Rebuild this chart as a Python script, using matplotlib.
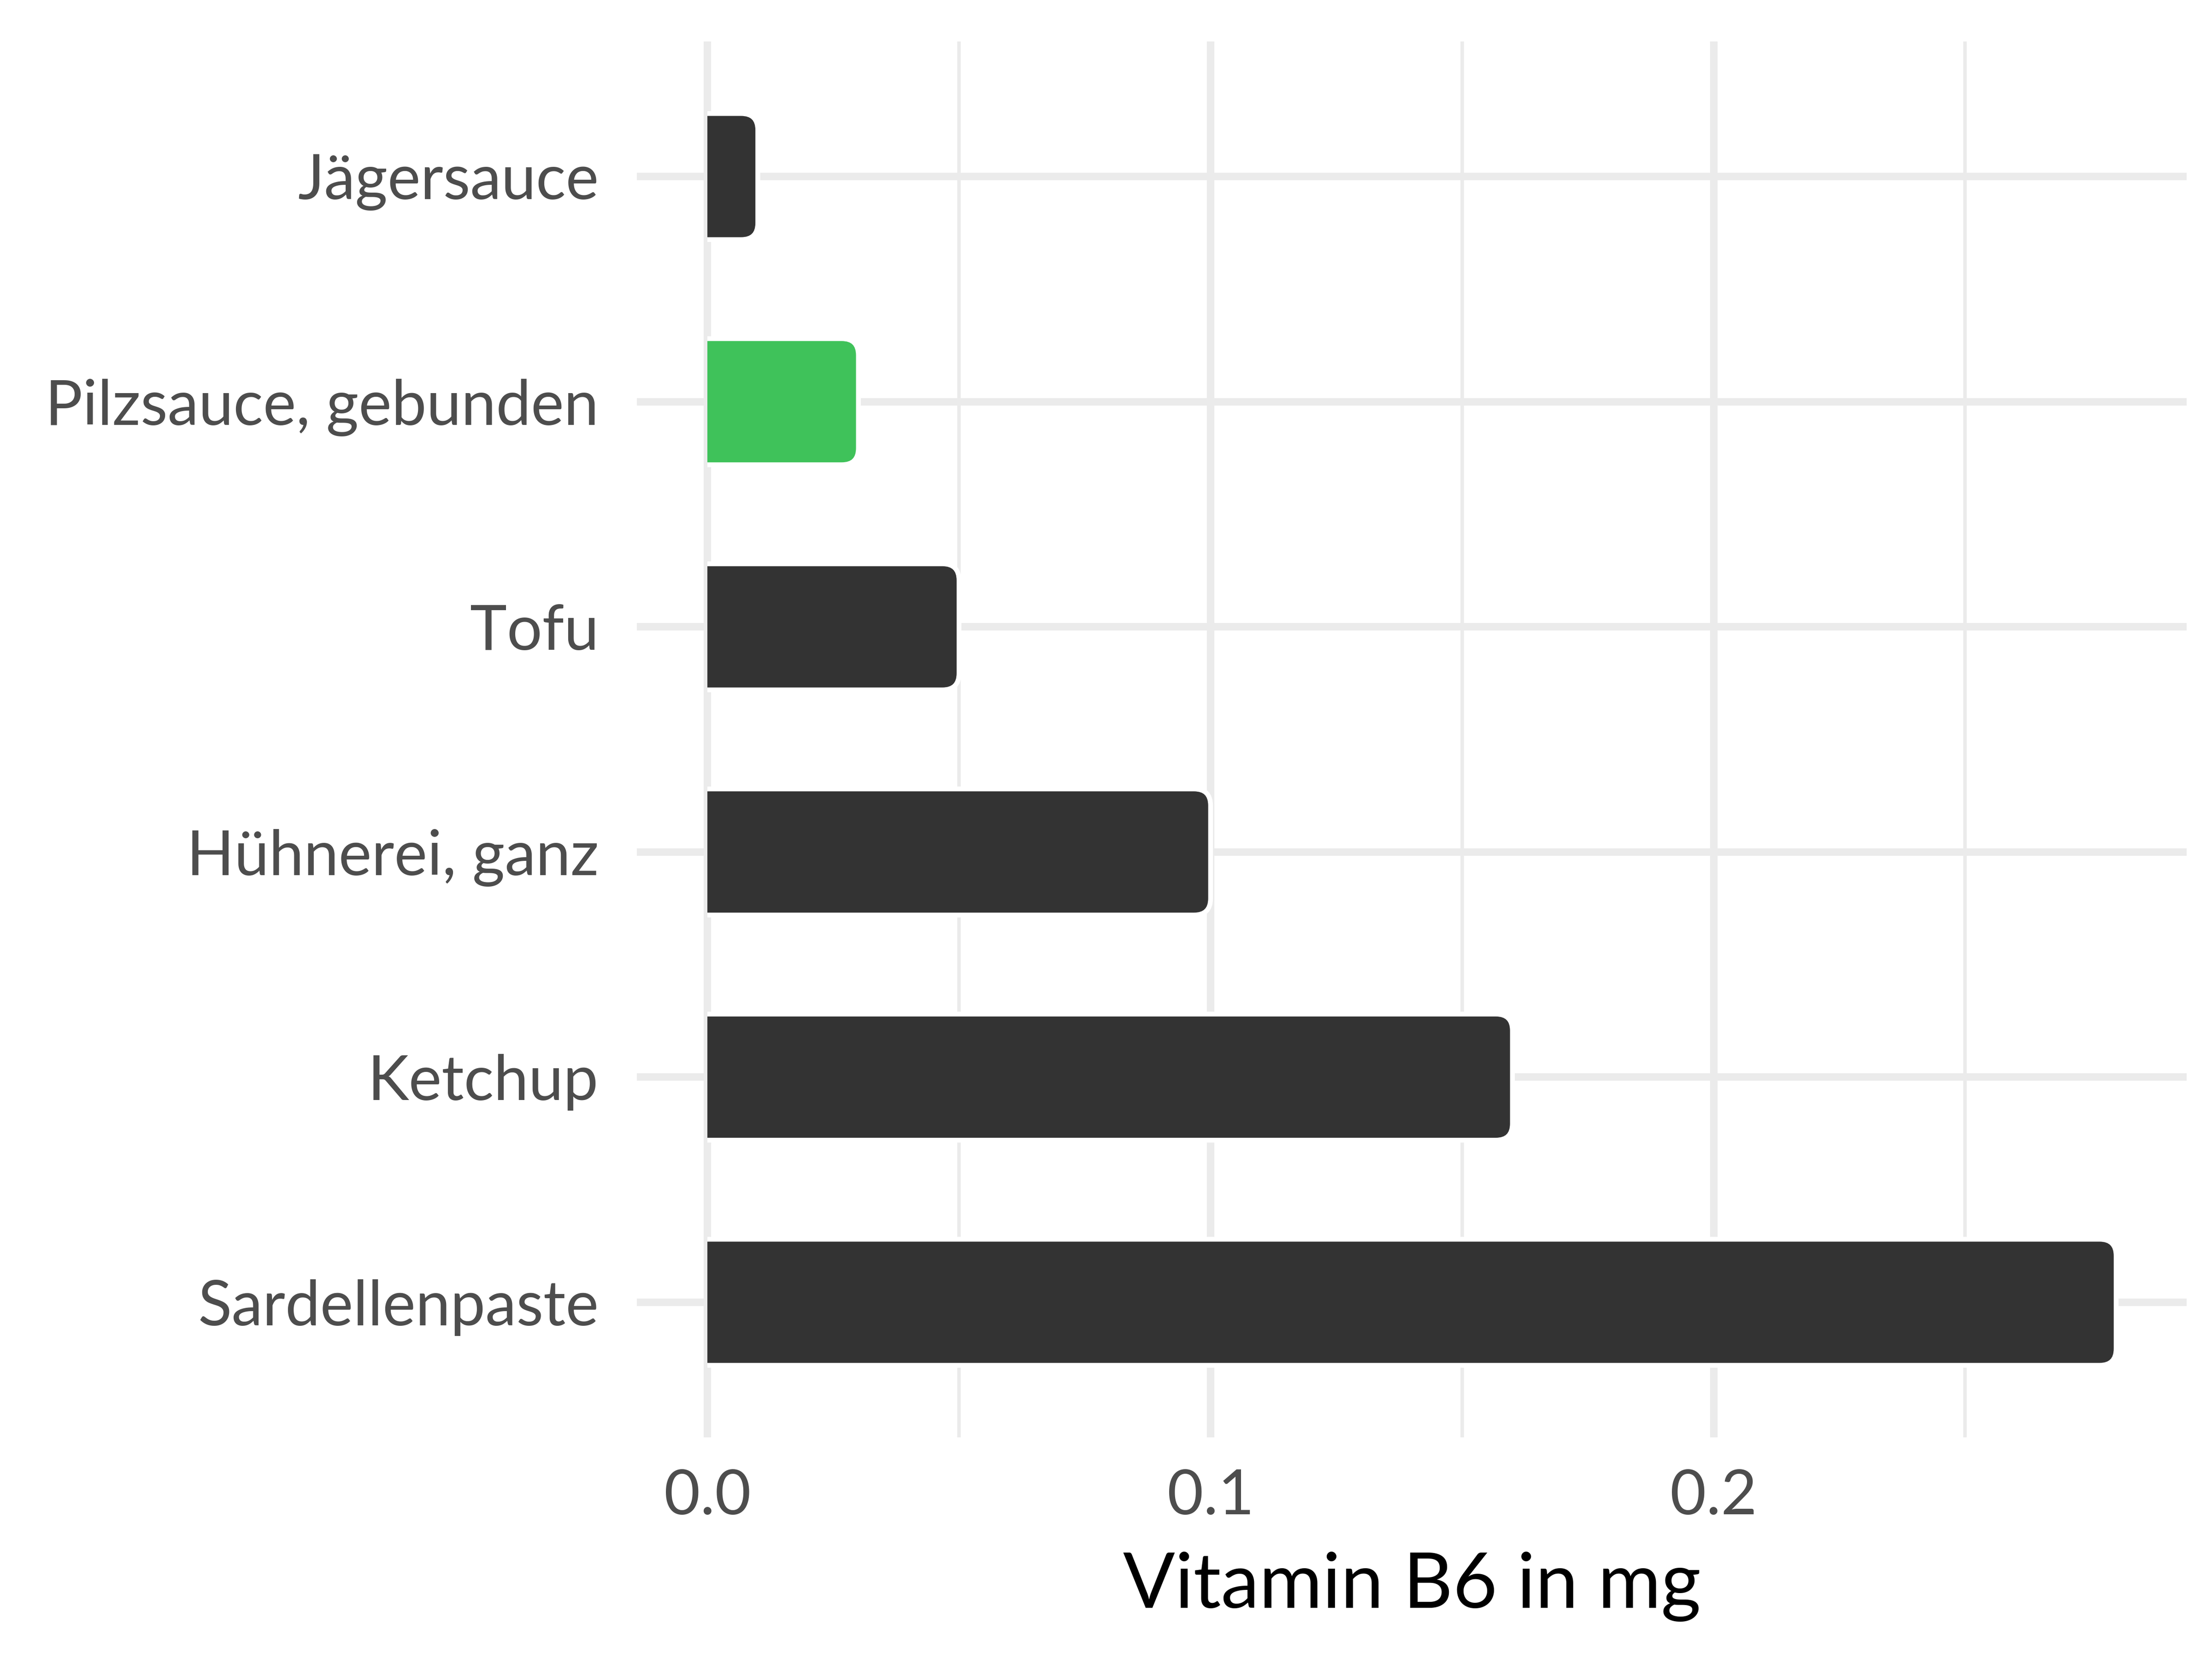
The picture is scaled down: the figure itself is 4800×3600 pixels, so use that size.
import matplotlib
matplotlib.use("Agg")
import matplotlib.pyplot as plt
from matplotlib.patches import FancyBboxPatch, Rectangle

# data, top to bottom as in the chart
foods = ["Jägersauce", "Pilzsauce, gebunden", "Tofu", "Hühnerei, ganz", "Ketchup", "Sardellenpaste"]
vitamin_b6 = [0.01, 0.03, 0.05, 0.10, 0.16, 0.28]
highlight = "Pilzsauce, gebunden"

dark = "#333333"
green = "#3fc25a"
grid_col = "#ebebeb"
bar_h = 0.56

plt.rcParams['font.family'] = ['Lato', 'DejaVu Sans']

fig = plt.figure(figsize=(16, 12), dpi=300)
ax = fig.add_axes([0.288, 0.1336, 0.7005, 0.8414])

xmax = max(vitamin_b6)
ax.set_xlim(-0.05 * xmax, 1.05 * xmax)
n = len(foods)
ax.set_ylim(n - 1 + 0.6, -0.6)

# rounding radius in data units (x) and aspect factor for y
r_x = 0.0033
aspect = 22.3

# clip everything left of zero so the bars have a square left end
clip = Rectangle((0, -1), 1, n + 2, transform=ax.transData)

for i, (name, val) in enumerate(zip(foods, vitamin_b6)):
    col = green if name == highlight else dark
    p = FancyBboxPatch((-3 * r_x, i - bar_h / 2), val + 3 * r_x, bar_h,
                       boxstyle=f"round,pad=0,rounding_size={r_x}",
                       mutation_aspect=aspect, fc=col, ec="white", lw=2.5, zorder=3)
    ax.add_patch(p)
    p.set_clip_path(clip)

ax.set_yticks(range(n))
ax.set_yticklabels(foods)
ax.set_xticks([0.0, 0.1, 0.2])
ax.set_xticklabels(["0.0", "0.1", "0.2"])
ax.set_xticks([0.05, 0.15, 0.25], minor=True)

ax.grid(True, which="major", color=grid_col, lw=3.9, zorder=0)
ax.grid(True, which="minor", axis="x", color=grid_col, lw=1.8, zorder=0)
ax.set_axisbelow(True)

for s in ax.spines.values():
    s.set_visible(False)

ax.tick_params(axis="both", which="both", length=0)
ax.tick_params(axis="y", pad=20, labelsize=32.5, labelcolor="#4d4d4d")
ax.tick_params(axis="x", pad=16, labelsize=32.5, labelcolor="#4d4d4d")

ax.set_xlabel("Vitamin B6 in mg", fontsize=40, color="black", labelpad=14)

fig.savefig("out.png", dpi=300, facecolor="white")
